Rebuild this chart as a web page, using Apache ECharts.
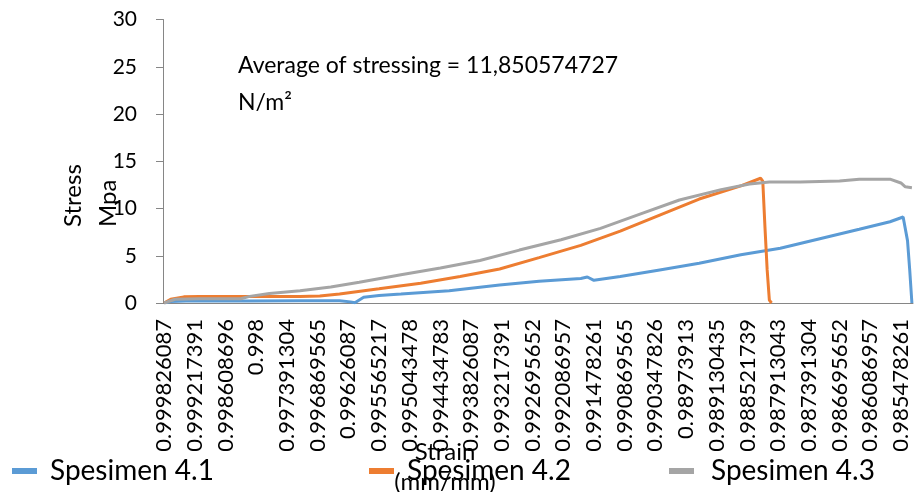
<!DOCTYPE html>
<html><head><meta charset="utf-8">
<script src="https://cdn.jsdelivr.net/npm/echarts@6/dist/echarts.min.js"></script>
<style>html,body{margin:0;padding:0;background:#fff}#c{width:915px;height:492px}</style>
</head><body><div id="c"></div>
<script>
var tickLabels = ["0.999826087","0.999217391","0.998608696","0.998","0.997391304","0.996869565","0.99626087","0.995565217","0.995043478","0.994434783","0.993826087","0.993217391","0.992695652","0.992086957","0.991478261","0.990869565","0.990347826","0.98973913","0.989130435","0.988521739","0.987913043","0.987391304","0.986695652","0.986086957","0.985478261"];
var categoryCount = 342;
var labelEvery = 14;
var s41Cat = [0,3,10,39,62,80,85,87,91,98,108,130,153,171,190,193,196,208,226,244,263,281,299,317,331,337,339,340,341];
var s41Val = [0,0.15,0.2,0.2,0.25,0.25,0.12,0.02,0.6,0.8,0.95,1.3,1.9,2.3,2.6,2.75,2.4,2.8,3.5,4.2,5.1,5.8,6.8,7.8,8.6,9.1,6.6,3.5,0];
var s42Cat = [0,3,9,16,62,71,80,98,117,135,153,171,190,208,226,244,263,272,273,274,275,276,277];
var s42Val = [0,0.4,0.65,0.7,0.7,0.75,0.95,1.5,2.1,2.8,3.6,4.8,6.1,7.6,9.3,11.0,12.4,13.2,12.9,8.0,3.5,0.3,0];
var s43Cat = [0,5,16,35,39,48,62,76,89,108,126,144,162,181,199,217,235,254,267,276,290,308,317,331,336,338,341];
var s43Val = [0,0.4,0.45,0.45,0.7,1.0,1.3,1.7,2.2,3.0,3.7,4.5,5.6,6.7,7.9,9.4,10.9,12.0,12.6,12.8,12.8,12.9,13.1,13.1,12.7,12.3,12.2];
var seriesNames = ["Spesimen 4.1","Spesimen 4.2","Spesimen 4.3"];
var colors = ["#5B9BD5","#ED7D31","#A5A5A5"];

var categories = [];
for (var i = 0; i < categoryCount; i++) {
  categories.push(i % labelEvery === 0 && tickLabels[i / labelEvery] ? tickLabels[i / labelEvery] : "");
}
function pairs(c, v) { return c.map(function (x, k) { return [x, v[k]]; }); }
var F = "Lato";
var chart = echarts.init(document.getElementById('c'), null, {renderer: 'canvas'});
chart.setOption({
  animation: false,
  color: colors,
  textStyle: {fontFamily: F, color: '#000'},
  grid: {left: 163, top: 19.5, right: 2, bottom: 189, containLabel: false},
  xAxis: {
    type: 'category', data: categories, boundaryGap: true,
    axisLine: {lineStyle: {color: '#868686', width: 1}},
    axisTick: {interval: 0, length: 7, lineStyle: {color: '#868686'}},
    axisLabel: {interval: labelEvery - 1, rotate: 90, margin: 16, fontSize: 22, color: '#000', fontFamily: F},
    splitLine: {show: false}
  },
  yAxis: {
    type: 'value', min: 0, max: 30, interval: 5,
    axisLine: {show: true, lineStyle: {color: '#868686'}},
    axisTick: {show: true, length: 7, lineStyle: {color: '#868686'}},
    axisLabel: {margin: 26, fontSize: 21, color: '#000', fontFamily: F},
    splitLine: {show: false}
  },
  legend: [0, 1, 2].map(function (k) {
    var lefts = [12, 369, 669];
    var pads = [8, 8, 12];
    return {data: [seriesNames[k]], left: lefts[k], top: 457, padding: 0, itemWidth: 25, itemHeight: 6, itemGap: 0,
      icon: 'rect', textStyle: {fontSize: 28, fontFamily: F, color: '#000', padding: [0, 0, 0, pads[k]]}};
  }),
  series: [
    {name: seriesNames[0], type: 'line', data: pairs(s41Cat, s41Val), symbol: 'none', lineStyle: {width: 3}},
    {name: seriesNames[1], type: 'line', data: pairs(s42Cat, s42Val), symbol: 'none', lineStyle: {width: 3}},
    {name: seriesNames[2], type: 'line', data: pairs(s43Cat, s43Val), symbol: 'none', lineStyle: {width: 3}}
  ],
  graphic: [
    {type: 'text', left: 238, top: 47, style: {text: 'Average of stressing = 11,850574727\nN/m²', font: '23px Lato', fill: '#000', lineHeight: 37}},
    {type: 'text', x: 73, y: 227, rotation: Math.PI / 2, style: {text: 'Stress', font: '24px Lato', fill: '#000', textAlign: 'left', textVerticalAlign: 'middle'}},
    {type: 'text', x: 108, y: 227, rotation: Math.PI / 2, style: {text: 'Mpa', font: '24px Lato', fill: '#000', textAlign: 'left', textVerticalAlign: 'middle'}},
    {type: 'text', x: 445, y: 452, style: {text: 'Strain', font: '24px Lato', fill: '#000', textAlign: 'center', textVerticalAlign: 'middle'}},
    {type: 'text', x: 445, y: 482, style: {text: '(mm/mm)', font: '24px Lato', fill: '#000', textAlign: 'center', textVerticalAlign: 'middle'}}
  ]
});
</script></body></html>
